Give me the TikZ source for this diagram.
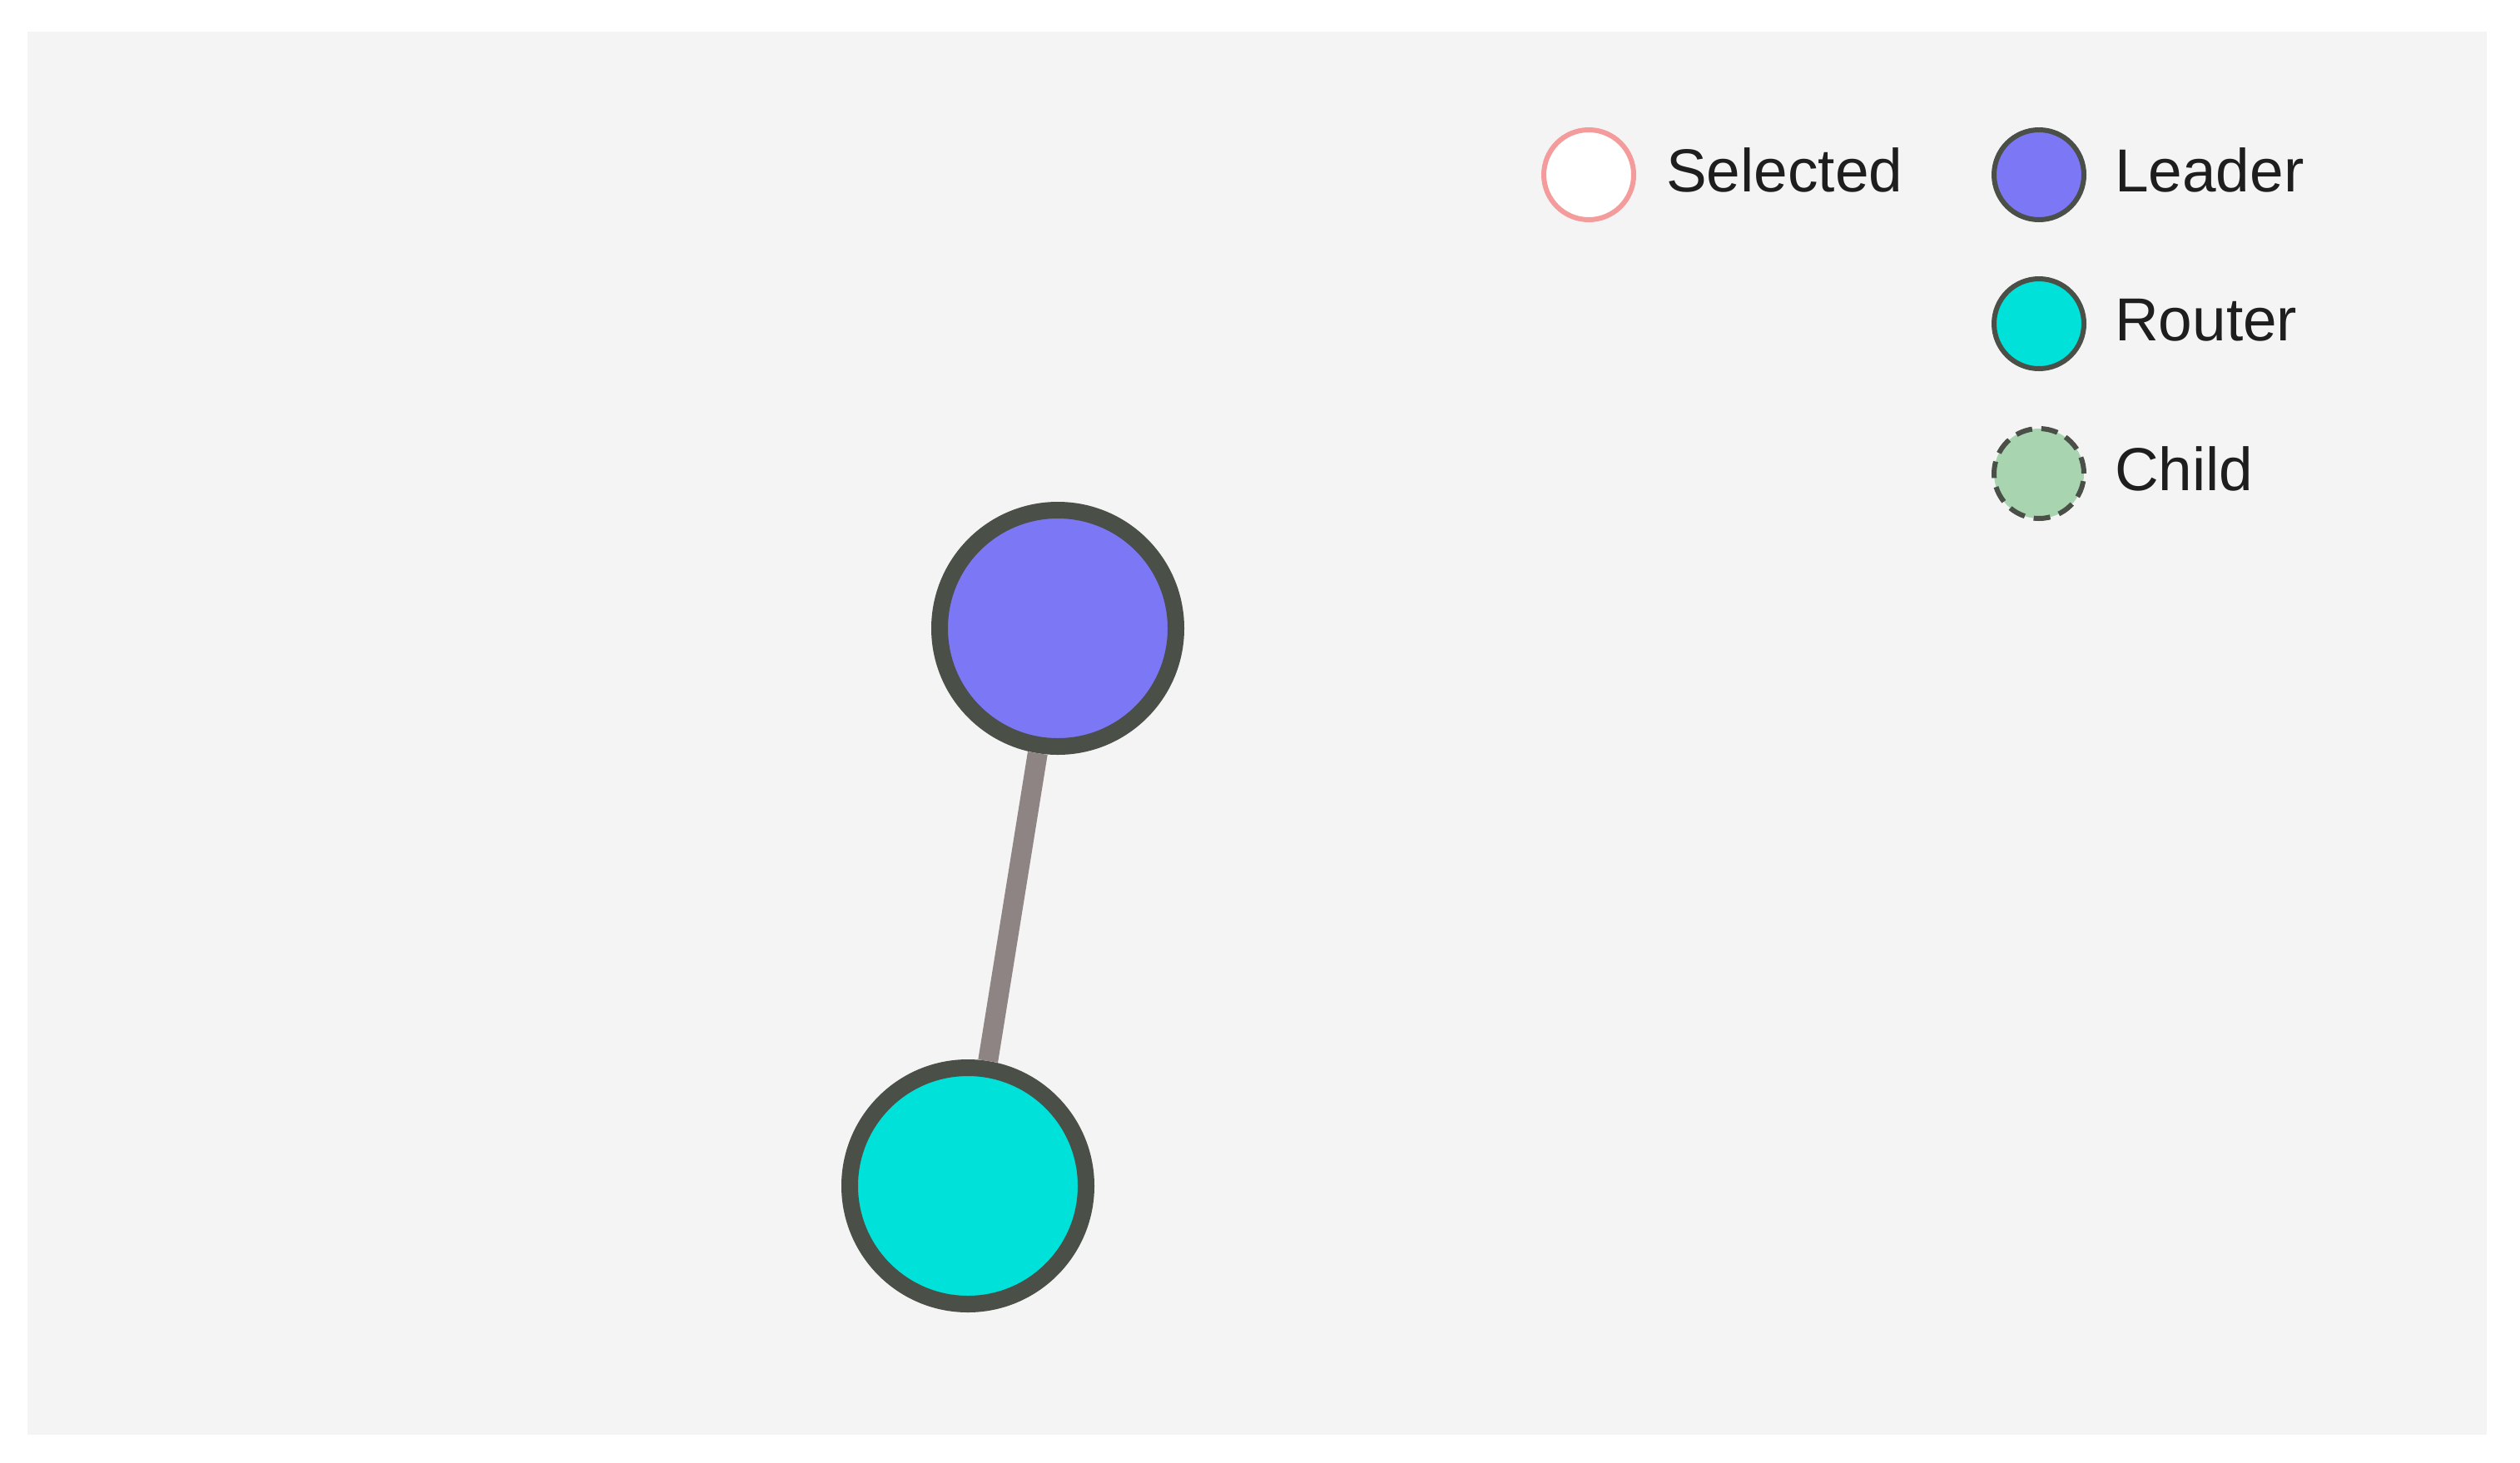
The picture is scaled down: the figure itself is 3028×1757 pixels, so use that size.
\documentclass[tikz,border=0pt]{standalone}
\usepackage{fontspec}
\setmainfont{Liberation Sans}
\definecolor{bg}{RGB}{244,244,244}
\definecolor{strokec}{RGB}{74,79,72}
\definecolor{edgec}{RGB}{142,132,132}
\definecolor{leaderc}{RGB}{124,119,245}
\definecolor{routerc}{RGB}{0,225,217}
\definecolor{childc}{RGB}{168,212,176}
\definecolor{selc}{RGB}{244,156,156}
\definecolor{txt}{RGB}{30,30,30}
\begin{document}
\begin{tikzpicture}[x=1pt,y=-1pt,
  bignode/.style={circle,draw=strokec,line width=20pt,minimum size=284pt,inner sep=0pt},
  legnode/.style={circle,draw=strokec,line width=6pt,minimum size=108pt,inner sep=0pt},
  legtext/.style={anchor=base west,inner sep=0pt,text=txt,font=\fontsize{73}{80}\selectfont},
  link/.style={draw=edgec,line width=24pt}]
\useasboundingbox (0,0) rectangle (3028,1757);
\fill[bg] (33,38) rectangle (2988,1724);
% graph
\node[bignode,fill=leaderc] (leader) at (1271,755) {};
\node[bignode,fill=routerc] (router) at (1163,1425) {};
\path[link] (leader) -- (router);
% legend
\node[legnode,draw=selc,fill=white] (lsel) at (1909,210) {};
\node[legtext] (tsel) at (2002,230) {Selected};
\node[legnode,fill=leaderc] (llead) at (2450,210) {};
\node[legtext] (tlead) at (2541,230) {Leader};
\node[legnode,fill=routerc] (lrout) at (2450,389) {};
\node[legtext] (trout) at (2541,409) {Router};
\node[legnode,fill=childc,dash pattern=on 20pt off 11pt] (lchild) at (2450,569) {};
\node[legtext] (tchild) at (2541,589) {Child};
\end{tikzpicture}
\end{document}
